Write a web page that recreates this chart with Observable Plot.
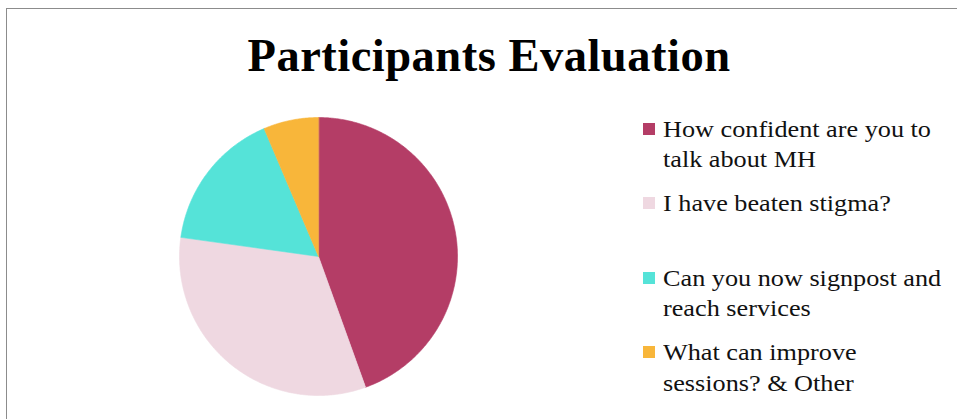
<!DOCTYPE html>
<html>
<head>
<meta charset="utf-8">
<script src="https://cdn.jsdelivr.net/npm/d3@7"></script>
<script src="https://cdn.jsdelivr.net/npm/@observablehq/plot@0.6"></script>
<style>
  html, body { margin: 0; padding: 0; background: #fff; }
  #wrap { position: relative; width: 957px; height: 419px; overflow: hidden; background: #fff; }
  #frame { position: absolute; left: 6px; top: 8px; width: 1000px; height: 500px; border: 1px solid #8c8c8c; box-sizing: border-box; }
  #title { position: absolute; left: 0; width: 978px; top: 26px; text-align: center; font-family: "Liberation Serif", "Times New Roman", serif; font-weight: bold; font-size: 46.5px; letter-spacing: 0.5px; line-height: 60px; color: #000; white-space: nowrap; }
  #pie { position: absolute; left: 168px; top: 106px; }
  .entry { position: absolute; left: 643px; width: 314px; font-family: "Liberation Serif", "Times New Roman", serif; font-size: 23px; line-height: 30.5px; color: #111; white-space: nowrap; }
  .entry .sw { position: absolute; left: 0; top: 8px; width: 12px; height: 12px; }
  .entry .tx { position: absolute; left: 20px; top: 0; transform: scaleX(1.14); transform-origin: 0 0; }
</style>
</head>
<body>
<div id="wrap">
  <div id="frame"></div>
  <div id="title"></div>
  <div id="pie"></div>
  <div id="legend"></div>
</div>
<script>
const title = "Participants Evaluation";
const categories = [
  "How confident are you to talk about MH",
  "I have beaten stigma?",
  "Can you now signpost and reach services",
  "What can improve sessions? & Other"
];
const legendLines = [
  ["How confident are you to", "talk about MH"],
  ["I have beaten stigma?"],
  ["Can you now signpost and", "reach services"],
  ["What can improve", "sessions? & Other"]
];
const values = [44.5, 32.7, 16.4, 6.4];
const colors = ["#B43D66", "#EFD8E1", "#55E3D8", "#F8B63A"];

document.getElementById("title").textContent = title;

// slice geometry from d3.pie (clockwise from 12 o'clock)
const arcs = d3.pie().sort(null).value(d => d)(values);
const pts = [];
arcs.forEach((a, i) => {
  const cat = categories[i];
  pts.push({cat, x: 0, y: 0});
  const n = Math.max(2, Math.ceil((a.endAngle - a.startAngle) / (Math.PI / 360)));
  for (let k = 0; k <= n; k++) {
    const t = a.startAngle + (a.endAngle - a.startAngle) * k / n;
    pts.push({cat, x: Math.sin(t), y: Math.cos(t)});
  }
});

const chart = Plot.plot({
  width: 300,
  height: 300,
  margin: 0,
  x: {domain: [-1, 1], range: [11, 289], axis: null},
  y: {domain: [-1, 1], range: [289, 11], axis: null},
  color: {domain: categories, range: colors},
  style: {background: "transparent"},
  marks: [
    Plot.line(pts, {x: "x", y: "y", z: "cat", fill: "cat", stroke: "cat", strokeWidth: 0.6, curve: "linear-closed"})
  ]
});
document.getElementById("pie").appendChild(chart);

const color = chart.scale("color");
const tops = [114.7, 189, 263.7, 338];
const legend = document.getElementById("legend");
categories.forEach((c, i) => {
  const e = document.createElement("div");
  e.className = "entry";
  e.style.top = tops[i] + "px";
  const sw = document.createElement("div");
  sw.className = "sw";
  sw.style.background = color.apply(c);
  const tx = document.createElement("div");
  tx.className = "tx";
  tx.innerHTML = legendLines[i].join("<br>");
  e.appendChild(sw); e.appendChild(tx);
  legend.appendChild(e);
});
</script>
</body>
</html>
